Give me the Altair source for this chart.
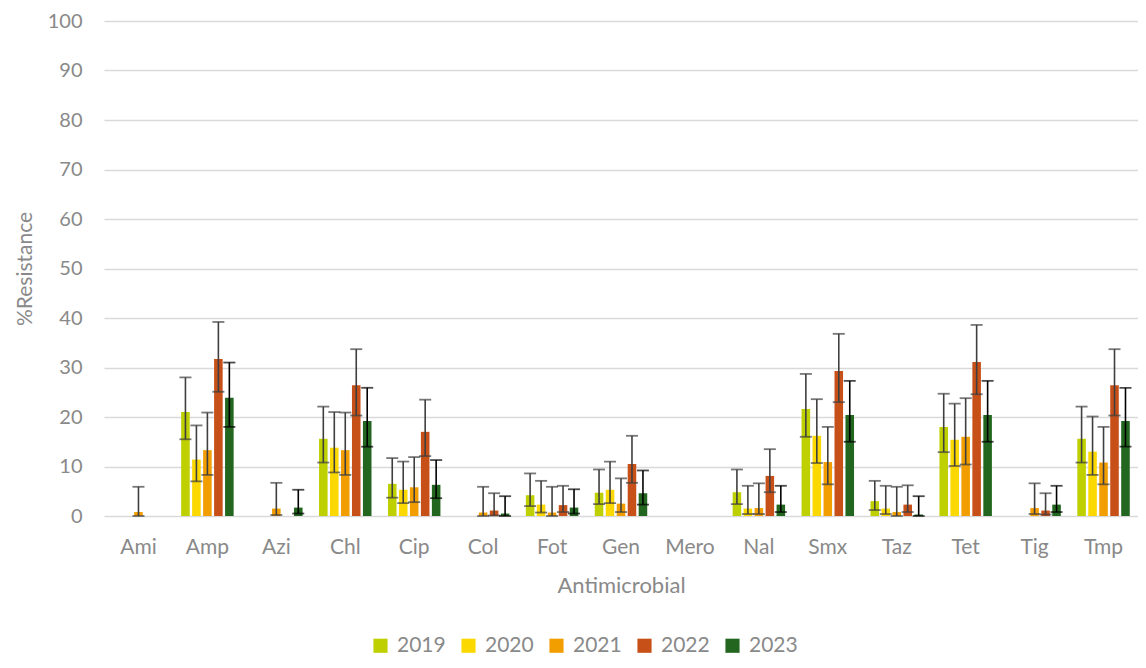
import altair as alt
import pandas as pd

antimicrobials = ["Ami", "Amp", "Azi", "Chl", "Cip", "Col", "Fot", "Gen", "Mero",
                  "Nal", "Smx", "Taz", "Tet", "Tig", "Tmp"]
years = ["2019", "2020", "2021", "2022", "2023"]

# values per year (None = no bar/error bar)
val_2019 = [None, 21.0, None, 15.6, 6.5, None, 4.2, 4.7, None, 4.8, 21.6, 3.0, 18.0, None, 15.6]
val_2020 = [None, 11.4, None, 13.8, 5.3, None, 2.3, 5.3, None, 1.5, 16.2, 1.5, 15.4, None, 13.0]
val_2021 = [0.8, 13.3, 1.5, 13.3, 5.8, 0.7, 0.7, 2.5, None, 1.6, 10.9, 0.8, 16.0, 1.6, 10.8]
val_2022 = [None, 31.7, None, 26.4, 17.0, 1.1, 2.2, 10.5, None, 8.1, 29.3, 2.3, 31.1, 1.1, 26.4]
val_2023 = [None, 23.9, 1.7, 19.2, 6.3, 0.5, 1.7, 4.6, None, 2.3, 20.4, 0.3, 20.4, 2.3, 19.2]

low_2019 = [None, 15.5, None, 10.8, 3.7, None, 2.0, 2.4, None, 2.4, 16.0, 1.2, 12.9, None, 10.8]
low_2020 = [None, 7.0, None, 8.8, 2.6, None, 0.7, 2.6, None, 0.4, 10.7, 0.4, 10.1, None, 8.3]
low_2021 = [0.0, 8.3, 0.2, 8.3, 2.8, 0.0, 0.0, 0.8, None, 0.4, 6.4, 0.0, 10.4, 0.4, 6.4]
low_2022 = [None, 25.1, None, 20.3, 12.1, 0.1, 0.8, 6.7, None, 4.8, 23.0, 0.8, 24.6, 0.3, 20.3]
low_2023 = [None, 18.0, 0.5, 14.0, 3.6, 0.0, 0.5, 2.3, None, 0.8, 15.0, 0.0, 15.0, 0.8, 14.0]

high_2019 = [None, 28.0, None, 22.1, 11.7, None, 8.6, 9.4, None, 9.4, 28.7, 7.1, 24.7, None, 22.1]
high_2020 = [None, 18.3, None, 21.0, 11.0, None, 7.1, 11.0, None, 6.1, 23.6, 6.1, 22.7, None, 20.1]
high_2021 = [5.9, 20.9, 6.7, 20.9, 11.9, 5.9, 5.9, 7.6, None, 6.6, 18.0, 5.9, 23.8, 6.6, 18.0]
high_2022 = [None, 39.2, None, 33.7, 23.5, 4.6, 6.1, 16.2, None, 13.5, 36.8, 6.2, 38.6, 4.6, 33.7]
high_2023 = [None, 31.0, 5.3, 25.9, 11.3, 4.0, 5.4, 9.2, None, 6.1, 27.3, 4.0, 27.3, 6.1, 25.9]

colors = ["#bfd000", "#fbd800", "#f29e00", "#c75019", "#23661f"]

vals = [val_2019, val_2020, val_2021, val_2022, val_2023]
lows = [low_2019, low_2020, low_2021, low_2022, low_2023]
highs = [high_2019, high_2020, high_2021, high_2022, high_2023]

rows = []
for yi, yr in enumerate(years):
    for ai, am in enumerate(antimicrobials):
        v = vals[yi][ai]
        if v is None:
            continue
        rows.append({"Antimicrobial": am, "Year": yr, "Value": v,
                     "Low": lows[yi][ai], "High": highs[yi][ai]})
df = pd.DataFrame(rows)

FONT = "Lato"
GRAY = "#898989"

x_enc = alt.X("Antimicrobial:N", sort=antimicrobials,
              scale=alt.Scale(domain=antimicrobials, paddingInner=0, paddingOuter=0),
              axis=alt.Axis(title="Antimicrobial", labelAngle=0, ticks=False, domain=False,
                            labelPadding=20, titlePadding=18, labelFontSize=21,
                            titleFontSize=22, labelColor=GRAY, titleColor=GRAY,
                            labelFont=FONT, titleFont=FONT, titleFontWeight="normal"))
xoff = alt.XOffset("Year:N", scale=alt.Scale(domain=years, paddingInner=0.22, paddingOuter=0.75))
y_enc = alt.Y("Value:Q", scale=alt.Scale(domain=[0, 100], nice=False),
              axis=alt.Axis(title="%Resistance", values=list(range(0, 101, 10)), ticks=False,
                            domain=False, gridColor="#d9d9d9", gridWidth=1.3,
                            labelPadding=22, titlePadding=12, labelFontSize=20,
                            titleFontSize=21, labelColor=GRAY, titleColor=GRAY,
                            labelFont=FONT, titleFont=FONT, titleFontWeight="normal"))

bars = alt.Chart(df).mark_bar().encode(
    x=x_enc, xOffset=xoff, y=y_enc,
    color=alt.Color("Year:N", scale=alt.Scale(domain=years, range=colors),
                    legend=alt.Legend(title=None, orient="none", direction="horizontal",
                                      legendX=266, legendY=614, symbolType="square",
                                      symbolSize=200, symbolStrokeWidth=0,
                                      labelFontSize=21, labelColor=GRAY, labelFont=FONT,
                                      columnPadding=12, labelOffset=6)),
)

err_color = alt.condition(alt.datum.Year == "2023", alt.value("#000000"), alt.value("#3f3f3f"))

rules = alt.Chart(df).mark_rule(strokeWidth=1.6).encode(
    x=alt.X("Antimicrobial:N", sort=antimicrobials), xOffset=alt.XOffset("Year:N"),
    y="Low:Q", y2="High:Q", color=err_color,
)
caps_hi = alt.Chart(df).mark_tick(orient="horizontal", size=12, thickness=1.8).encode(
    x=alt.X("Antimicrobial:N", sort=antimicrobials), xOffset=alt.XOffset("Year:N"),
    y="High:Q", color=err_color,
)
caps_lo = alt.Chart(df).mark_tick(orient="horizontal", size=12, thickness=1.8).encode(
    x=alt.X("Antimicrobial:N", sort=antimicrobials), xOffset=alt.XOffset("Year:N"),
    y="Low:Q", color=err_color,
)

chart = alt.layer(bars, rules, caps_hi, caps_lo).properties(
    width=1034, height=495,
    autosize=alt.AutoSizeParams(type="none"),
    padding={"left": 96, "top": 13, "right": 0, "bottom": 144},
).configure_view(stroke=None).configure_axis(gridColor="#d9d9d9")

chart.save("out.html", embed_options={"renderer": "svg", "actions": False})
